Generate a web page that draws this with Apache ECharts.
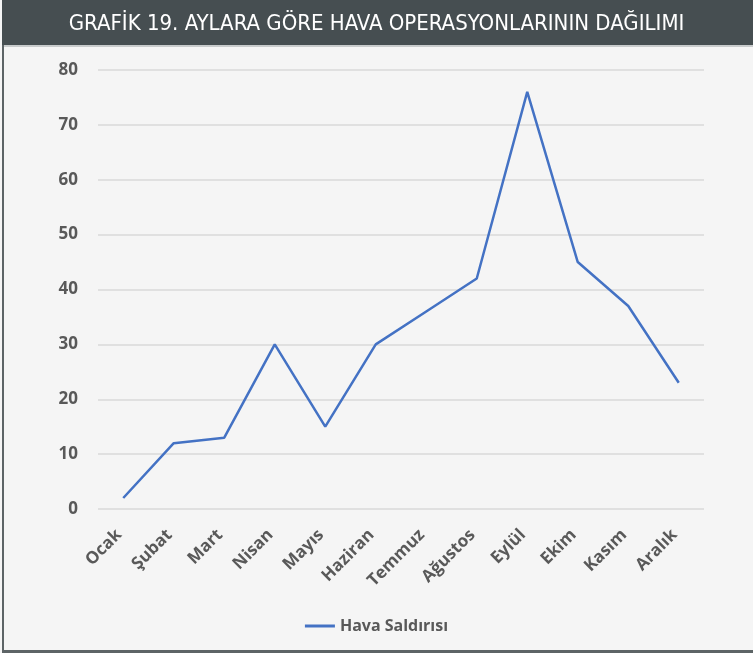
<!DOCTYPE html>
<html>
<head>
<meta charset="utf-8">
<script src="https://cdn.jsdelivr.net/npm/echarts@6/dist/echarts.min.js"></script>
<style>
  html, body { margin: 0; padding: 0; background: #f5f5f5; }
  #main { width: 753px; height: 653px; }
</style>
</head>
<body>
<div id="main"></div>
<script>
const months = ["Ocak", "Şubat", "Mart", "Nisan", "Mayıs", "Haziran", "Temmuz", "Ağustos", "Eylül", "Ekim", "Kasım", "Aralık"];
const airStrikes = [2, 12, 13, 30, 15, 30, 36, 42, 76, 45, 37, 23];
const yTicks = [0, 10, 20, 30, 40, 50, 60, 70, 80];

const chart = echarts.init(document.getElementById("main"));

const option = {
  backgroundColor: "#f5f5f5",
  animation: false,
  title: {
    text: "GRAFİK 19. AYLARA GÖRE HAVA OPERASYONLARININ DAĞILIMI",
    left: "center",
    top: 8,
    textStyle: {
      color: "#ffffff",
      fontFamily: "DejaVu Sans Condensed",
      fontWeight: "normal",
      fontSize: 22,
    },
  },
  graphic: [
    // title bar
    { type: "rect", z: -1, shape: { x: 2, y: 0, width: 751, height: 45 }, style: { fill: "#464e51" } },
    { type: "rect", z: -1, shape: { x: 2, y: 45, width: 751, height: 2 }, style: { fill: "#c8cbcc" } },
    // left and bottom frame
    { type: "rect", z: -1, shape: { x: 2, y: 45, width: 2, height: 608 }, style: { fill: "#5d6466" } },
    { type: "rect", z: -1, shape: { x: 2, y: 650, width: 751, height: 3 }, style: { fill: "#5d6466" } },
  ],
  legend: {
    data: ["Hava Saldırısı"],
    bottom: 14,
    left: "center",
    icon: "rect",
    itemWidth: 30,
    itemHeight: 3,
    itemGap: 4,
    textStyle: {
      color: "#595959",
      fontFamily: "Open Sans",
      fontWeight: "bold",
      fontSize: 16,
    },
  },
  grid: {
    left: 98,
    right: 49,
    top: 70,
    height: 439,
  },
  xAxis: {
    type: "category",
    data: months,
    boundaryGap: true,
    axisLine: { show: false },
    axisTick: { show: false },
    axisLabel: {
      rotate: 45,
      interval: 0,
      margin: 19,
      padding: [0, 6, 0, 0],
      color: "#595959",
      fontFamily: "Open Sans",
      fontWeight: "bold",
      fontSize: 17,
    },
  },
  yAxis: {
    type: "value",
    min: yTicks[0],
    max: yTicks[yTicks.length - 1],
    interval: 10,
    axisLine: { show: false },
    axisTick: { show: false },
    splitLine: { lineStyle: { color: "#d9d9d9", width: 1.5 } },
    axisLabel: {
      margin: 20,
      color: "#595959",
      fontFamily: "Open Sans",
      fontWeight: "bold",
      fontSize: 17,
    },
  },
  series: [
    {
      name: "Hava Saldırısı",
      type: "line",
      data: airStrikes,
      showSymbol: false,
      color: "#4472c4",
      lineStyle: { color: "#4472c4", width: 2.5 },
    },
  ],
};

chart.setOption(option);
</script>
</body>
</html>
